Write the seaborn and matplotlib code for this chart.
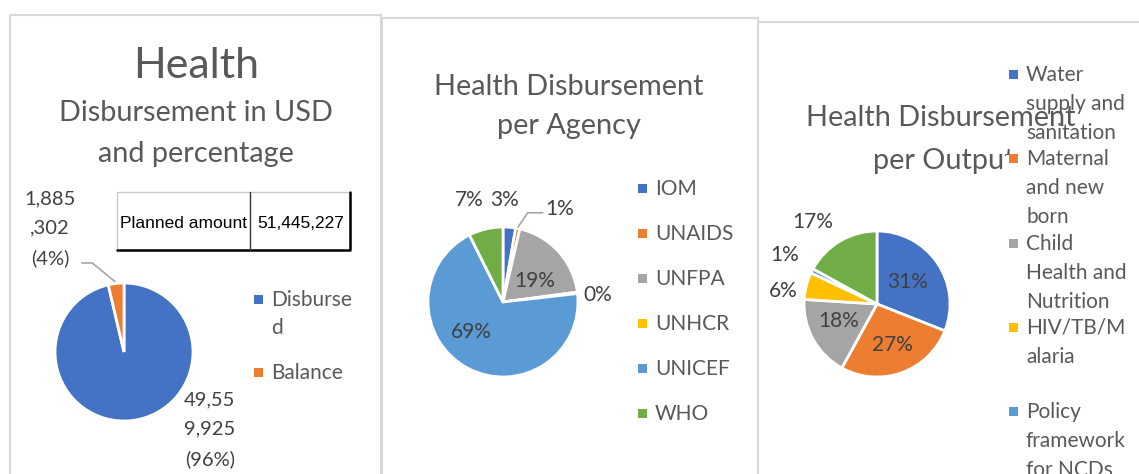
import textwrap
import numpy as np
import matplotlib.pyplot as plt
from matplotlib.patches import Rectangle
import seaborn as sns

# --- data ---
budget_items = ["Disbursed", "Balance"]
budget_usd = [49559925, 1885302]
planned_amount = 51445227

agencies = ["IOM", "UNAIDS", "UNFPA", "UNHCR", "UNICEF", "WHO"]
agency_share = [2.7, 0.9, 19.3, 0.3, 69.4, 7.4]

outputs = ["Water supply and sanitation", "Maternal and new born",
           "Child Health and Nutrition", "HIV/TB/Malaria",
           "Policy framework for NCDs", "Other"]
output_share = [31, 27, 18, 6, 1, 17]

# legend text as wrapped in the original
budget_legend = ["Disburse\nd", "Balance"]
agency_legend = agencies
output_legend = ["Water\nsupply and\nsanitation", "Maternal\nand new\nborn",
                 "Child\nHealth and\nNutrition", "HIV/TB/M\nalaria",
                 "Policy\nframework\nfor NCDs", "Other"]

sns.set_theme(style="white")
plt.rcParams['font.family'] = ['Lato', 'DejaVu Sans']
office = sns.color_palette(["#4472C4", "#ED7D31", "#A5A5A5", "#FFC000", "#5B9BD5", "#70AD47"])

W, H = 1139, 474
fig = plt.figure(figsize=(W / 100, H / 100), dpi=100)
fig.patch.set_facecolor("white")

# overlay axes in pixel coordinates for frames, titles and legends
ov = fig.add_axes([0, 0, 1, 1])
ov.set_xlim(0, W)
ov.set_ylim(H, 0)
ov.axis("off")

TITLE = "#595959"
LAB = "#404040"
GRID = "#d9d9d9"

for x0, y0, x1 in [(10, 15, 381), (382, 18, 758), (758, 22, 1160)]:
    ov.add_patch(Rectangle((x0, y0), x1 - x0, H - y0 + 10, fill=False,
                           edgecolor=GRID, lw=1.5))


def pie_axes(cx, cy, r):
    ax = fig.add_axes([(cx - r) / W, 1 - (cy + r) / H, 2 * r / W, 2 * r / H])
    ax.set_zorder(2)
    return ax


def draw_pie(ax, values, colors):
    wedges, _ = ax.pie(values, colors=colors, startangle=90, counterclock=False,
                       wedgeprops=dict(edgecolor="white", linewidth=2))
    ax.set_xlim(-1, 1)
    ax.set_ylim(-1, 1)
    ax.axis("off")
    return wedges


def put_labels(ax, wedges, texts, dists, nudges, **kw):
    for w, t, d, n in zip(wedges, texts, dists, nudges):
        a = np.deg2rad((w.theta1 + w.theta2) / 2 + n)
        ax.text(d * np.cos(a), d * np.sin(a), t, ha="center", va="center",
                color=LAB, clip_on=False, **kw)


def legend(x, y0, step, labels, colors, line=28.5, size=15):
    for i, (lab, c) in enumerate(zip(labels, colors)):
        y = y0 + i * step
        ov.add_patch(Rectangle((x, y - 5), 9, 9, color=c, lw=0, zorder=4))
        for j, part in enumerate(lab.split("\n")):
            ov.text(x + 17, y + j * line, part, fontsize=size, color=TITLE,
                    va="center", ha="left", zorder=4)


# ---------- panel 1 ----------
ov.text(196, 66, "Health", fontsize=31, color=TITLE, ha="center", va="center")
ov.text(196, 113, "Disbursement in USD", fontsize=20.8, color=TITLE, ha="center", va="center")
ov.text(196, 154, "and percentage", fontsize=20.8, color=TITLE, ha="center", va="center")

# planned amount box
ov.add_patch(Rectangle((117, 192), 233, 58, facecolor="white", edgecolor="#c8c8c8", lw=1))
ov.plot([350, 350, 117], [192, 250, 250], color="black", lw=1.8)
ov.plot([250, 250], [192, 250], color="#333333", lw=1)
ov.text(183, 223, "Planned amount", fontsize=12.5, family="Liberation Sans",
        color="black", ha="center", va="center")
ov.text(301, 223, f"{planned_amount:,}", fontsize=12.5, family="Liberation Sans",
        color="black", ha="center", va="center")

ax1 = pie_axes(124, 352, 69)
w1 = draw_pie(ax1, budget_usd, office[:2])
total = sum(budget_usd)
budget_text = ["\n".join(textwrap.wrap(f"{v:,}", 5) + [f"({v / total * 100:.0f}%)"])
               for v in budget_usd]
put_labels(ax1, w1, budget_text, [1.68, 2.08], [41.2, 24.4], fontsize=14.5, linespacing=1.85)
ax1.plot([-0.61, -0.46, -0.13], [1.29, 1.29, 1.02], color="#a6a6a6", lw=1.2, clip_on=False)
legend(254, 300, 73, budget_legend, office[:2])

# ---------- panel 2 ----------
ov.text(569, 87, "Health Disbursement", fontsize=20.8, color=TITLE, ha="center", va="center")
ov.text(569, 126, "per Agency", fontsize=20.8, color=TITLE, ha="center", va="center")

ax2 = pie_axes(503, 302, 75)
w2 = draw_pie(ax2, agency_share, office)
tot2 = sum(agency_share)
put_labels(ax2, w2, [f"{v / tot2 * 100:.0f}%" for v in agency_share],
           [1.36, 1.45, 0.51, 1.27, 0.58, 1.43], [3.8, -20, -9, -3, -17.6, 5], fontsize=15)
ax2.plot([0.53, 0.33, 0.2], [1.19, 1.19, 1.0], color="#a6a6a6", lw=1.2, clip_on=False)
legend(638, 189, 45, agency_legend, office)

# ---------- panel 3 ----------
ov.text(941, 118, "Health Disbursement", fontsize=20.8, color=TITLE, ha="center", va="center")
ov.text(944, 161, "per Output", fontsize=20.8, color=TITLE, ha="center", va="center")
# legend box hides the end of the title, as in the original
ov.add_patch(Rectangle((1006, 155), 140, 30, color="white", lw=0, zorder=3))

ax3 = pie_axes(877, 304, 73)
w3 = draw_pie(ax3, output_share, office)
tot3 = sum(output_share)
put_labels(ax3, w3, [f"{v / tot3 * 100:.0f}%" for v in output_share],
           [0.52, 0.60, 0.57, 1.30, 1.43, 1.42], [1, 1.5, -4.8, 6.5, -1, 7.4], fontsize=15)

legend(1009, 75, 84.3, output_legend, office, line=29)

fig.savefig("out.png", dpi=100, facecolor="white")
